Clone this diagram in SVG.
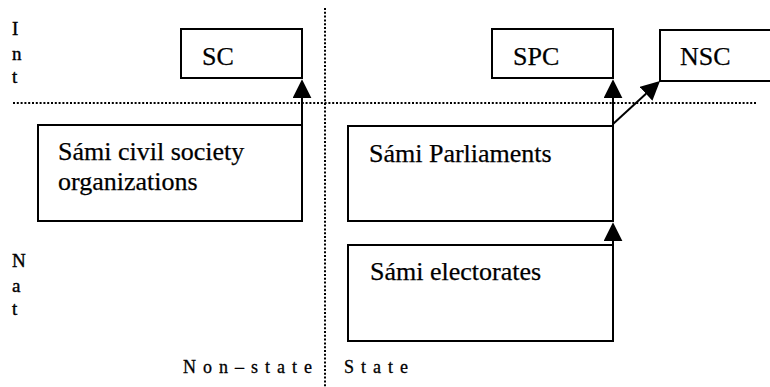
<svg xmlns="http://www.w3.org/2000/svg" width="770" height="387" viewBox="0 0 770 387">
<style>
.box{fill:#fff;stroke:#000;stroke-width:2}
.t{font-family:"Liberation Serif","Times New Roman",serif;font-size:26px;fill:#000;stroke:#000;stroke-width:0.25}
.ax{font-family:"Liberation Serif","Times New Roman",serif;font-size:19px;fill:#000;stroke:#000;stroke-width:0.4}
.ax2{font-family:"Liberation Serif","Times New Roman",serif;font-size:18px;fill:#000;letter-spacing:7px;stroke:#000;stroke-width:0.3}
.dot{stroke:#000;stroke-width:2;stroke-dasharray:2 1.8;fill:none}
.c{stroke:#000;stroke-width:2;fill:none;marker-end:url(#ah)}
</style>
<defs>
<marker id="ah" viewBox="0 0 20 20" markerWidth="19" markerHeight="19" refX="16" refY="10" orient="auto" markerUnits="userSpaceOnUse">
<path d="M0,0 L20,10 L0,20 z" fill="#000"/>
</marker>
</defs>
<rect width="770" height="387" fill="#fff"/>
<g id="axes">
<line class="dot" x1="325" y1="8" x2="325" y2="387"/>
<line class="dot" x1="13" y1="103" x2="756" y2="103"/>
<text class="ax" x="12" y="35">I</text>
<text class="ax" x="12" y="60">n</text>
<text class="ax" x="12" y="83">t</text>
<text class="ax" x="12" y="267">N</text>
<text class="ax" x="12" y="292">a</text>
<text class="ax" x="12" y="315">t</text>
<text class="ax2" x="183" y="373">Non–state</text>
<text class="ax2" x="344" y="373">State</text>
</g>
<g id="sc">
<rect class="box" x="181" y="29" width="121" height="49"/>
<text class="t" x="202" y="65">SC</text>
</g>
<g id="civil">
<rect class="box" x="38" y="125" width="264" height="96"/>
<text class="t" x="58" y="160">Sámi civil society</text>
<text class="t" x="58" y="190">organizations</text>
</g>
<g id="spc">
<rect class="box" x="492" y="29" width="121" height="49"/>
<text class="t" x="513" y="65">SPC</text>
</g>
<g id="nsc">
<rect class="box" x="660" y="30" width="120" height="51"/>
<text class="t" x="680" y="65">NSC</text>
</g>
<g id="parliaments">
<rect class="box" x="348" y="126" width="265" height="95"/>
<text class="t" x="369" y="162">Sámi Parliaments</text>
</g>
<g id="electorates">
<rect class="box" x="348" y="245" width="265" height="96"/>
<text class="t" x="370" y="280">Sámi electorates</text>
</g>
<g id="connectors">
<line class="c" x1="302" y1="125" x2="302" y2="83"/>
<line class="c" x1="613" y1="126" x2="613" y2="83"/>
<line class="c" x1="613" y1="124" x2="657.2" y2="83.6"/>
<line class="c" x1="613" y1="245" x2="613" y2="226"/>
</g>
</svg>
